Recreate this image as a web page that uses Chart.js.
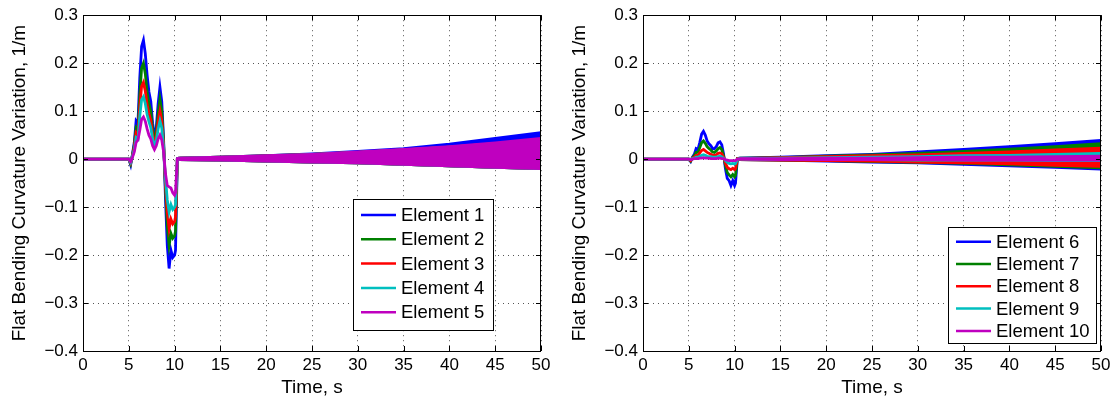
<!DOCTYPE html>
<html>
<head>
<meta charset="utf-8">
<script src="https://cdn.jsdelivr.net/npm/chart.js@4"></script>
<style>
  html, body { margin: 0; padding: 0; background: #fff; }
  #wrap { position: relative; width: 1115px; height: 408px; }
  canvas { position: absolute; top: 0; }
</style>
</head>
<body>
<div id="wrap">
  <canvas id="leftChart" width="557" height="408" style="left:0"></canvas>
  <canvas id="rightChart" width="555" height="408" style="left:560px"></canvas>
</div>
<script>
// time axis, seconds
const xTicks = [0, 5, 10, 15, 20, 25, 30, 35, 40, 45, 50];
const yTicks = [-0.4, -0.3, -0.2, -0.1, 0, 0.1, 0.2, 0.3];

// transient part (before the oscillating band)
const transTime = [0, 5.0, 5.2, 5.4, 5.6, 5.8, 6.0, 6.2, 6.4, 6.6, 6.8, 7.0, 7.2, 7.4, 7.6,
  7.8, 8.0, 8.2, 8.4, 8.6, 8.8, 9.0, 9.2, 9.4, 9.6, 9.8, 10.0, 10.1, 10.3, 10.5];
// band part: upper / lower envelope of the fast oscillation
const bandTime = [10.5, 15, 20, 25, 30, 35, 40, 45, 50];

const leftNames = ['Element 1', 'Element 2', 'Element 3', 'Element 4', 'Element 5'];
const rightNames = ['Element 6', 'Element 7', 'Element 8', 'Element 9', 'Element 10'];
const colors = ['#0000ff', '#008000', '#ff0000', '#00bfbf', '#bf00bf'];

const element1 = [0, 0, -0.012, 0.01, 0.035, 0.08, 0.075, 0.17, 0.235, 0.248, 0.22, 0.175, 0.14, 0.12, 0.075,
  0.05, 0.065, 0.115, 0.15, 0.12, 0.04, -0.08, -0.18, -0.228, -0.19, -0.205, -0.2, -0.19, 0.001, 0.002];
const element2 = [0, 0, -0.01, 0.008, 0.03, 0.065, 0.06, 0.135, 0.19, 0.2, 0.178, 0.14, 0.115, 0.1, 0.062,
  0.042, 0.055, 0.095, 0.125, 0.1, 0.033, -0.06, -0.14, -0.18, -0.155, -0.165, -0.16, -0.15, 0.001, 0.002];
const element3 = [0, 0, -0.008, 0.007, 0.025, 0.055, 0.05, 0.11, 0.152, 0.16, 0.142, 0.113, 0.095, 0.08, 0.05,
  0.035, 0.045, 0.078, 0.1, 0.08, 0.027, -0.05, -0.11, -0.145, -0.125, -0.135, -0.13, -0.12, 0.001, 0.002];
const element4 = [0, 0, -0.007, 0.006, 0.02, 0.045, 0.042, 0.09, 0.124, 0.13, 0.116, 0.093, 0.078, 0.066, 0.042,
  0.028, 0.038, 0.063, 0.08, 0.065, 0.022, -0.04, -0.085, -0.11, -0.095, -0.105, -0.1, -0.095, 0.001, 0.002];
const element5 = [0, 0, -0.005, 0.004, 0.015, 0.035, 0.04, 0.06, 0.083, 0.088, 0.079, 0.063, 0.05, 0.042, 0.028,
  0.02, 0.028, 0.042, 0.05, 0.04, 0.015, -0.03, -0.055, -0.058, -0.06, -0.07, -0.075, -0.07, 0.001, 0.002];

const element6 = [0, 0, -0.005, 0.004, 0.01, 0.022, 0.02, 0.035, 0.052, 0.058, 0.05, 0.038, 0.032, 0.028, 0.022,
  0.022, 0.026, 0.034, 0.036, 0.03, 0.01, -0.02, -0.04, -0.045, -0.055, -0.045, -0.055, -0.05, 0.001, 0.002];
const element7 = [0, 0, -0.004, 0.003, 0.007, 0.014, 0.014, 0.024, 0.034, 0.038, 0.033, 0.026, 0.022, 0.019, 0.015,
  0.014, 0.017, 0.022, 0.024, 0.02, 0.007, -0.013, -0.028, -0.033, -0.037, -0.032, -0.037, -0.034, 0.001, 0.001];
const element8 = [0, 0, -0.003, 0.002, 0.004, 0.008, 0.008, 0.013, 0.018, 0.02, 0.017, 0.014, 0.012, 0.01, 0.008,
  0.008, 0.009, 0.012, 0.013, 0.011, 0.004, -0.008, -0.017, -0.02, -0.022, -0.019, -0.022, -0.02, 0.001, 0.001];
const element9 = [0, 0, -0.001, 0.001, 0.002, 0.004, 0.004, 0.006, 0.008, 0.009, 0.008, 0.006, 0.005, 0.005, 0.004,
  0.004, 0.004, 0.005, 0.006, 0.005, 0.002, -0.003, -0.007, -0.009, -0.01, -0.009, -0.01, -0.009, 0, 0.001];
const element10 = [0, 0, -0.001, 0, 0.001, 0.001, 0.001, 0.002, 0.002, 0.003, 0.002, 0.002, 0.002, 0.001, 0.001,
  0.001, 0.001, 0.002, 0.002, 0.001, 0.001, -0.001, -0.002, -0.003, -0.003, -0.003, -0.003, -0.003, 0, 0];

// band envelopes, left plot
const upper1 = [0.002, 0.004, 0.007, 0.011, 0.016, 0.022, 0.031, 0.043, 0.055];
const upper2 = [0.002, 0.004, 0.007, 0.010, 0.014, 0.019, 0.025, 0.032, 0.040];
const upper3 = [0.002, 0.004, 0.006, 0.010, 0.014, 0.019, 0.025, 0.032, 0.040];
const upper4 = [0.002, 0.004, 0.006, 0.010, 0.014, 0.019, 0.025, 0.032, 0.041];
const upper5 = [0.002, 0.004, 0.007, 0.010, 0.015, 0.020, 0.026, 0.034, 0.043];
const lower1 = [-0.001, -0.002, -0.004, -0.006, -0.008, -0.011, -0.014, -0.017, -0.020];
const lower2 = [-0.001, -0.002, -0.004, -0.006, -0.008, -0.011, -0.014, -0.017, -0.020];
const lower3 = [-0.001, -0.002, -0.004, -0.006, -0.008, -0.011, -0.014, -0.017, -0.020];
const lower4 = [-0.001, -0.002, -0.004, -0.006, -0.008, -0.011, -0.014, -0.017, -0.020];
const lower5 = [-0.001, -0.002, -0.004, -0.006, -0.008, -0.011, -0.014, -0.017, -0.020];

// band envelopes, right plot
const upper6 = [0.002, 0.004, 0.007, 0.010, 0.015, 0.020, 0.026, 0.032, 0.039];
const upper7 = [0.002, 0.003, 0.006, 0.009, 0.012, 0.016, 0.021, 0.026, 0.032];
const upper8 = [0.001, 0.003, 0.005, 0.007, 0.009, 0.012, 0.015, 0.019, 0.023];
const upper9 = [0.001, 0.002, 0.003, 0.004, 0.005, 0.007, 0.008, 0.010, 0.012];
const upper10 = [0.001, 0.001, 0.002, 0.002, 0.003, 0.004, 0.004, 0.005, 0.006];
const lower6 = [-0.001, -0.002, -0.004, -0.006, -0.008, -0.011, -0.014, -0.017, -0.021];
const lower7 = [-0.001, -0.002, -0.003, -0.005, -0.007, -0.009, -0.012, -0.015, -0.018];
const lower8 = [-0.001, -0.002, -0.003, -0.004, -0.006, -0.008, -0.010, -0.013, -0.015];
const lower9 = [0, -0.001, -0.001, -0.001, -0.002, -0.002, -0.002, -0.003, -0.003];
const lower10 = [0, -0.001, -0.001, -0.001, -0.001, -0.002, -0.002, -0.002, -0.002];

const FONT = "'Liberation Sans', Arial, sans-serif";

function buildDatasets(names, trans, upper, lower) {
  const ds = [];
  names.forEach((name, i) => {
    const order = names.length - i;   // last element drawn on top
    const col = colors[i];
    ds.push({
      label: name, legendEntry: true, order, borderColor: col,
      data: transTime.map((t, k) => ({ x: t, y: trans[i][k] }))
    });
    const upIdx = ds.length;
    ds.push({
      label: name + ' max', order, borderColor: col,
      data: bandTime.map((t, k) => ({ x: t, y: upper[i][k] }))
    });
    ds.push({
      label: name + ' min', order, borderColor: col, backgroundColor: col, fill: upIdx,
      data: bandTime.map((t, k) => ({ x: t, y: lower[i][k] }))
    });
  });
  return ds;
}

function fmtTick(v) {
  if (Math.abs(v) < 1e-9) return '0';
  const s = Math.abs(v).toFixed(1);
  return v < 0 ? '\u2212' + s : s;
}

// MATLAB-like frame, inward ticks and legend box
const matlabFrame = {
  id: 'matlabFrame',
  afterDatasetsDraw(chart, args, opts) {
    const { ctx, chartArea: a, scales: { x, y } } = chart;
    ctx.save();
    ctx.strokeStyle = '#000';
    ctx.lineWidth = 1;
    ctx.strokeRect(Math.round(a.left) + 0.5, Math.round(a.top) + 0.5,
      Math.round(a.right - a.left) - 1, Math.round(a.bottom - a.top));
    ctx.beginPath();
    xTicks.forEach(v => {
      const px = Math.round(x.getPixelForValue(v)) + 0.5;
      ctx.moveTo(px, a.bottom); ctx.lineTo(px, a.bottom - 5);
      ctx.moveTo(px, a.top); ctx.lineTo(px, a.top + 5);
    });
    yTicks.forEach(v => {
      const py = Math.round(y.getPixelForValue(v)) + 0.5;
      ctx.moveTo(a.left, py); ctx.lineTo(a.left + 5, py);
      ctx.moveTo(a.right, py); ctx.lineTo(a.right - 5, py);
    });
    ctx.stroke();

    // legend
    const L = opts.box;
    ctx.fillStyle = '#fff';
    ctx.fillRect(L.x, L.y, L.w, L.h);
    ctx.strokeRect(L.x + 0.5, L.y + 0.5, L.w, L.h);
    const entries = chart.data.datasets.filter(d => d.legendEntry);
    ctx.font = '18.5px ' + FONT;
    ctx.textBaseline = 'middle';
    ctx.textAlign = 'left';
    entries.forEach((d, i) => {
      const cy = L.firstY + i * L.step;
      ctx.strokeStyle = d.borderColor;
      ctx.lineWidth = 2.5;
      ctx.beginPath();
      ctx.moveTo(L.x + 8, cy); ctx.lineTo(L.x + 43, cy);
      ctx.stroke();
      ctx.fillStyle = '#000';
      ctx.fillText(d.label, L.x + 48, cy + 1);
    });
    ctx.restore();
  }
};

function makeChart(id, names, trans, upper, lower, box, padRight) {
  return new Chart(document.getElementById(id), {
    type: 'line',
    data: { datasets: buildDatasets(names, trans, upper, lower) },
    plugins: [matlabFrame],
    options: {
      responsive: false,
      animation: false,
      devicePixelRatio: 1,
      layout: { padding: { left: 0, right: padRight, top: 15, bottom: 0 } },
      elements: {
        point: { radius: 0 },
        line: { borderWidth: 2.8, tension: 0, fill: false }
      },
      plugins: {
        legend: { display: false },
        tooltip: { enabled: false },
        matlabFrame: { box }
      },
      scales: {
        x: {
          type: 'linear', min: 0, max: 50,
          afterBuildTicks: s => { s.ticks = xTicks.map(v => ({ value: v })); },
          afterFit: s => { s.height = 57; },
          ticks: { color: '#000', font: { size: 17, family: FONT }, padding: 4, maxRotation: 0,
                   callback: v => String(v) },
          grid: { color: '#555', drawTicks: false },
          border: { display: false, dash: [1, 4] },
          title: { display: true, text: 'Time, s', color: '#000',
                   font: { size: 19, family: FONT }, padding: { top: 0, bottom: 9 } }
        },
        y: {
          type: 'linear', min: -0.4, max: 0.3,
          afterBuildTicks: s => { s.ticks = yTicks.map(v => ({ value: v })); },
          afterFit: s => { s.width = 83; },
          ticks: { color: '#000', font: { size: 17, family: FONT }, padding: 5,
                   callback: v => fmtTick(v) },
          grid: { color: '#555', drawTicks: false },
          border: { display: false, dash: [1, 4] },
          title: { display: true, text: 'Flat Bending Curvature Variation, 1/m', color: '#000',
                   font: { size: 19, family: FONT }, padding: { top: 8, bottom: 0 } }
        }
      }
    }
  });
}

makeChart('leftChart', leftNames,
  [element1, element2, element3, element4, element5],
  [upper1, upper2, upper3, upper4, upper5],
  [lower1, lower2, lower3, lower4, lower5],
  { x: 353, y: 199, w: 140, h: 131, firstY: 215, step: 24.3 }, 16);

makeChart('rightChart', rightNames,
  [element6, element7, element8, element9, element10],
  [upper6, upper7, upper8, upper9, upper10],
  [lower6, lower7, lower8, lower9, lower10],
  { x: 388, y: 227, w: 148, h: 116, firstY: 241.7, step: 22.3 }, 14);
</script>
</body>
</html>
